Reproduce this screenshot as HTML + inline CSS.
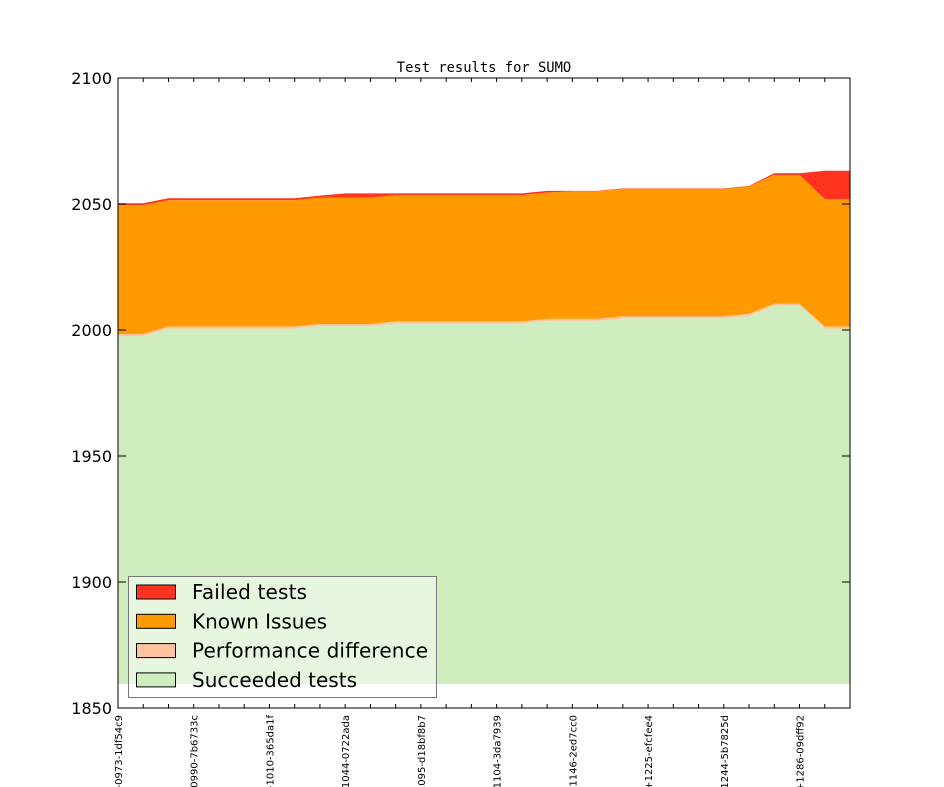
<!DOCTYPE html>
<html><head><meta charset="utf-8"><style>body{margin:0;background:#fff}svg{display:block}</style></head>
<body>
<svg id="s" width="944" height="787" xmlns="http://www.w3.org/2000/svg" font-family="'DejaVu Sans', 'Liberation Sans', sans-serif"></svg>
<script>
const s=document.getElementById('s');
const X=i=>118+i*732/29, Y=v=>708-(v-1850)*2.52;
const g=[1997.6,1997.6,2000.6,2000.6,2000.6,2000.6,2000.6,2000.6,2001.6,2001.6,2001.6,2002.6,2002.6,2002.6,2002.6,2002.6,2002.6,2003.6,2003.6,2003.6,2004.6,2004.6,2004.6,2004.6,2004.6,2005.6,2009.6,2009.6,2000.6,2000.6];
const p=g.map(v=>v+0.8);
const k=[2049.5,2049.5,2051.5,2051.5,2051.5,2051.5,2051.5,2051.5,2052.5,2052.5,2052.5,2053.5,2053.5,2053.5,2053.5,2053.5,2053.5,2054.5,2055,2055,2056,2056,2056,2056,2056,2057,2061.5,2061.5,2052,2052];
const f=[2050.3,2050.3,2052.3,2052.3,2052.3,2052.3,2052.3,2052.3,2053.3,2054.2,2054.2,2054.2,2054.2,2054.2,2054.2,2054.2,2054.2,2055.2,2055.2,2055.2,2056.2,2056.2,2056.2,2056.2,2056.2,2057.2,2062.2,2062.2,2063.2,2063.2];
function band(top,bot,c){let d='M'+top.map((v,i)=>X(i)+','+Y(v)).join('L');for(let i=29;i>=0;i--)d+='L'+X(i)+','+(bot?Y(bot[i]):684);return `<path d="${d}Z" fill="${c}"/>`;}
let h='';
h+=band(f,k,'#ff3320')+band(k,p,'#ff9900')+band(p,g,'#ffc3a0')+band(g,null,'#cfedbe');
h+='<rect x="118" y="78" width="732" height="630" fill="none" stroke="#000" stroke-width="1"/>';
for(let i=0;i<30;i++){h+=`<line x1="${X(i)}" y1="708" x2="${X(i)}" y2="704" stroke="#000"/><line x1="${X(i)}" y1="78" x2="${X(i)}" y2="82" stroke="#000"/>`;}
for(let v=1850;v<=2100;v+=50){const y=Y(v);h+=`<line x1="118" y1="${y}" x2="126" y2="${y}" stroke="#000"/><line x1="842" y1="${y}" x2="850" y2="${y}" stroke="#000"/><text x="112" y="${y+6}" font-size="16" text-anchor="end">${v}</text>`;}
const labs=['-0973-1df54c9','0990-7b6733c','-1010-365da1f','1044-0722ada','.095-d18bf8b7','1104-3da7939','1146-2ed7cc0','+1225-efcfee4','1244-5b7825d','+1286-09dff92'];
labs.forEach((l,j)=>{const x=X(j*3)+4;h+=`<text transform="translate(${x},715) rotate(-90)" font-size="10" text-anchor="end">${l}</text>`;});
h+='<text x="484" y="72" font-size="13.8" text-anchor="middle" font-family="\'DejaVu Sans Mono\',\'Liberation Mono\',monospace">Test results for SUMO</text>';
h+='<rect x="128.5" y="576.5" width="308" height="121" fill="#fff" fill-opacity="0.5" stroke="#777"/>';
const L=[['Failed tests','#ff3320'],['Known Issues','#ff9900'],['Performance difference','#ffc3a0'],['Succeeded tests','#cfedbe']];
L.forEach((e,j)=>{const y=585+j*29.3;h+=`<rect x="136.5" y="${y}" width="39" height="14" fill="${e[1]}" stroke="#000"/><text x="192" y="${y+14}" font-size="20" textLength="${[115,135,236,165][j]}">${e[0]}</text>`;});
s.innerHTML=h;
</script>
</body></html>
